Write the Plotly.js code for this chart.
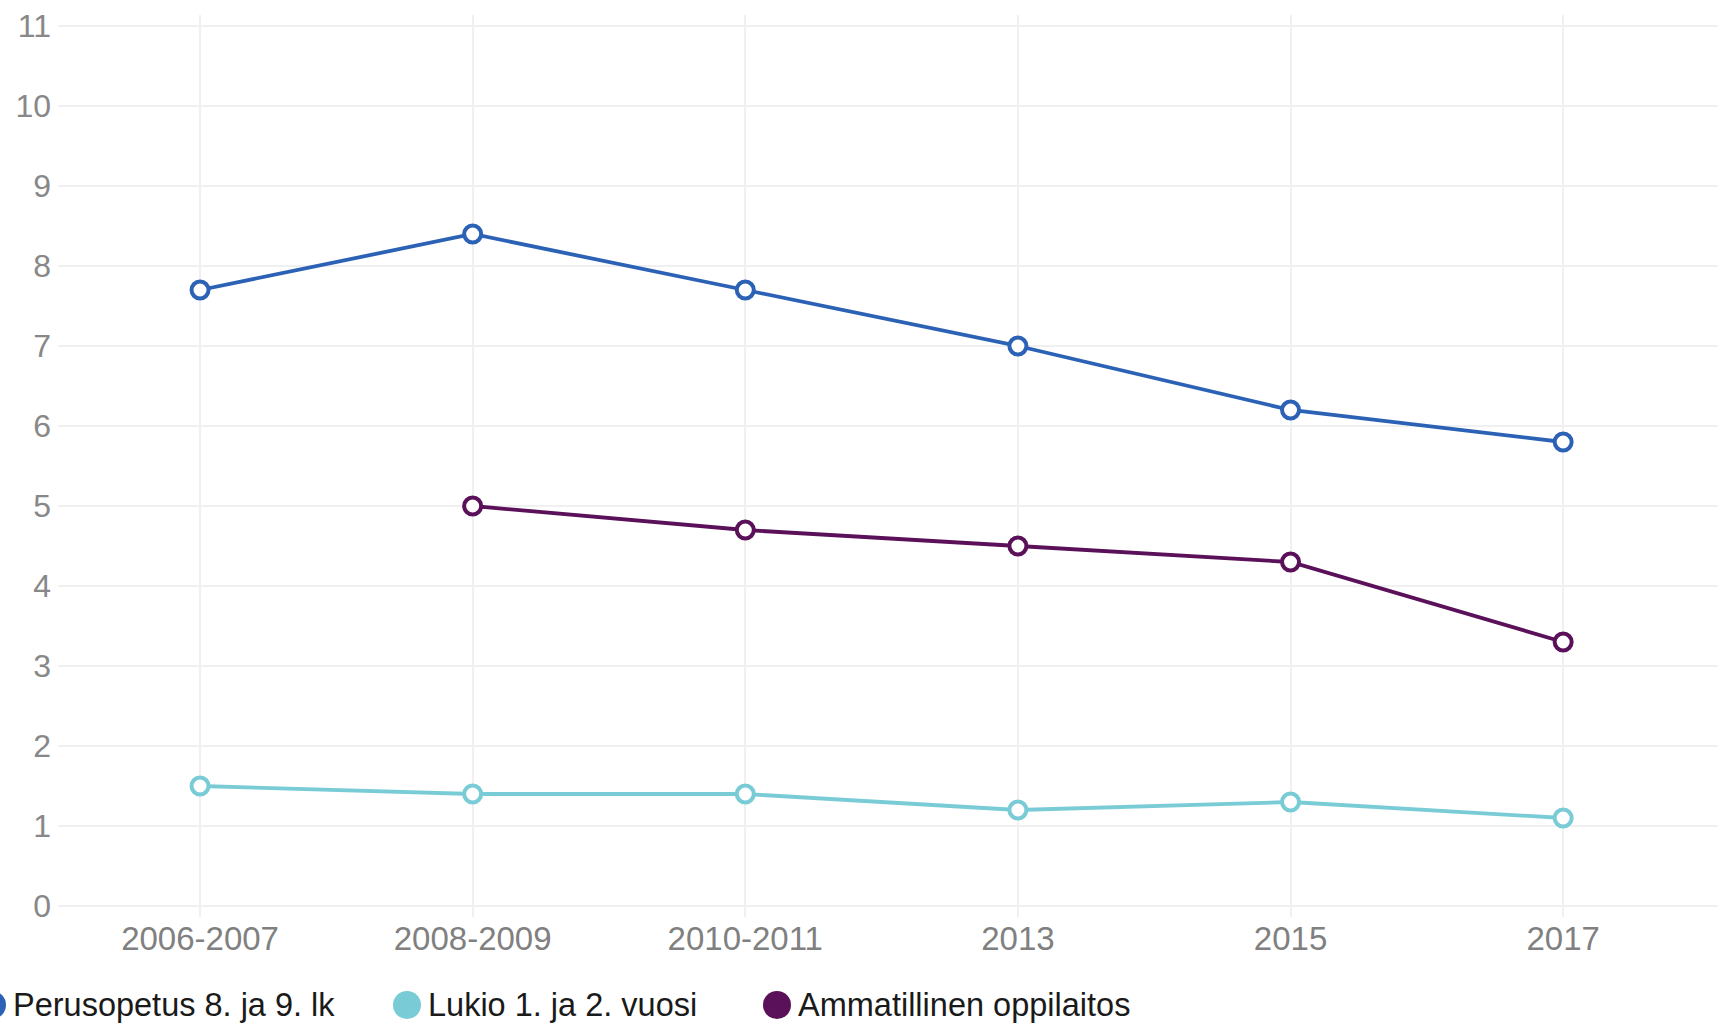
<!DOCTYPE html>
<html>
<head>
<meta charset="utf-8">
<script src="https://cdn.plot.ly/plotly-3.0.1.min.js"></script>
<style>html,body{margin:0;padding:0;background:#fff;}#chart{width:1718px;height:1023px;}</style>
</head>
<body>
<div id="chart"></div>
<script>
// Data
var categories = ["2006-2007", "2008-2009", "2010-2011", "2013", "2015", "2017"];
var seriesNames = ["Perusopetus 8. ja 9. lk", "Lukio 1. ja 2. vuosi", "Ammatillinen oppilaitos"];
var perusopetus = [7.7, 8.4, 7.7, 7.0, 6.2, 5.8];
var lukio = [1.5, 1.4, 1.4, 1.2, 1.3, 1.1];
var ammatillinen = [null, 5.0, 4.7, 4.5, 4.3, 3.3];
var yTicks = [0, 1, 2, 3, 4, 5, 6, 7, 8, 9, 10, 11];

var colors = ["#2c62b5", "#79ccd6", "#5b1159"];
var seriesValues = [perusopetus, lukio, ammatillinen];

var W = 1718, H = 1023;
var plotL = 58, plotR = 1718, plotT = 15, plotB = 917;

var traces = seriesValues.map(function (vals, i) {
  return {
    type: "scatter",
    mode: "lines+markers",
    name: seriesNames[i],
    x: categories,
    y: vals,
    line: {color: colors[i], width: 3.8},
    marker: {symbol: "circle", size: 17, color: "#ffffff", line: {color: colors[i], width: 4}},
    connectgaps: false,
    showlegend: false,
    cliponaxis: false
  };
});

function px2paperX(px) { return (px - plotL) / (plotR - plotL); }
function px2paperY(py) { return (plotB - py) / (plotB - plotT); }

// custom legend (large dots like the reference)
var legendDotX = [-8, 407, 777];
var legendTextX = [13, 428, 798];
var legendY = 1005;
var shapes = [];
var annotations = [];
seriesNames.forEach(function (n, i) {
  shapes.push({
    type: "circle", xref: "paper", yref: "paper",
    xsizemode: "pixel", ysizemode: "pixel",
    xanchor: px2paperX(legendDotX[i]), yanchor: px2paperY(legendY),
    x0: -14, x1: 14, y0: -14, y1: 14,
    fillcolor: colors[i], line: {width: 0}
  });
  annotations.push({
    xref: "paper", yref: "paper",
    x: px2paperX(legendTextX[i] - 2), y: px2paperY(legendY),
    xanchor: "left", yanchor: "middle",
    text: n, showarrow: false,
    font: {family: "Liberation Sans, Arial, sans-serif", size: 32.5, color: "#1a1a1a"}
  });
});

var layout = {
  width: W, height: H,
  paper_bgcolor: "#ffffff", plot_bgcolor: "#ffffff",
  margin: {l: plotL, r: W - plotR, t: plotT, b: H - plotB, pad: 0},
  showlegend: false,
  font: {family: "Liberation Sans, Arial, sans-serif"},
  xaxis: {
    type: "category",
    range: [-0.521, 5.568],
    showgrid: true, gridcolor: "#f0f0f0", gridwidth: 2,
    zeroline: false, showline: false, ticks: "",
    tickfont: {size: 33, color: "#808080"},
    ticklabelstandoff: -1,
    fixedrange: true
  },
  yaxis: {
    range: [-0.1375, 11.1375],
    tickmode: "array", tickvals: yTicks, ticktext: yTicks.map(String),
    showgrid: true, gridcolor: "#f0f0f0", gridwidth: 2,
    zeroline: false, showline: false, ticks: "",
    tickfont: {size: 32, color: "#888888"},
    ticklabelstandoff: 6,
    fixedrange: true
  },
  shapes: shapes,
  annotations: annotations
};

Plotly.newPlot("chart", traces, layout, {displayModeBar: false, staticPlot: true});
</script>
</body>
</html>
